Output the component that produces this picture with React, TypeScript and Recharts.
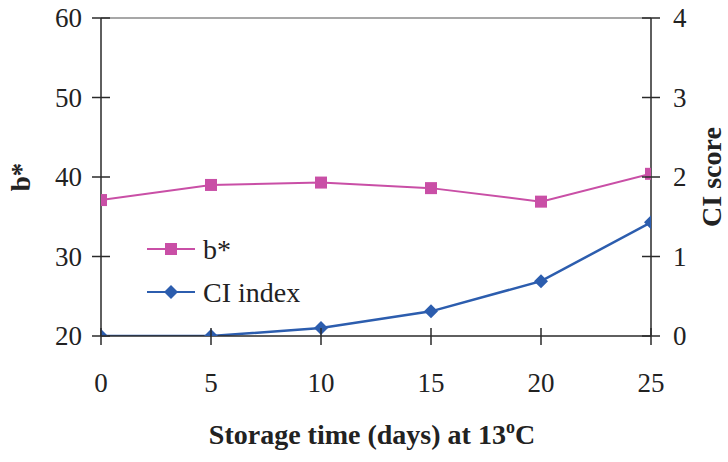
import React from 'react';
import { ComposedChart, Line, XAxis, YAxis, ReferenceLine, Legend } from 'recharts';

const days = [0, 5, 10, 15, 20, 25];
const bStar = [37.1, 39.0, 39.3, 38.6, 36.9, 40.4];
const ciScore = [0, 0, 0.1, 0.31, 0.69, 1.43];
const xTicks = [0, 5, 10, 15, 20, 25];
const leftTicks = [20, 30, 40, 50, 60];
const rightTicks = [0, 1, 2, 3, 4];
const seriesNames = ['b*', 'CI index'];

const data = days.map((d, i) => ({ day: d, b: bStar[i], ci: ciScore[i] }));

const FONT = '"Liberation Serif", "Times New Roman", serif';
const AXIS = '#2a2a2a';
const PINK = '#C94FA6';
const BLUE = '#2C5DAE';

const LeftTick = (p: any) => {
  const { x, y, payload } = p;
  return (
    <g>
      <line x1={x - 9} y1={y} x2={x + 9} y2={y} stroke={AXIS} strokeWidth={1.5} />
      <text x={x - 19} y={y} dy="0.35em" textAnchor="end" fontFamily={FONT} fontSize={27} fill="#222">
        {payload.value}
      </text>
    </g>
  );
};

const RightTick = (p: any) => {
  const { x, y, payload } = p;
  return (
    <g>
      <line x1={x - 9} y1={y} x2={x + 9} y2={y} stroke={AXIS} strokeWidth={1.5} />
      <text x={x + 22} y={y} dy="0.35em" textAnchor="start" fontFamily={FONT} fontSize={27} fill="#222">
        {payload.value}
      </text>
    </g>
  );
};

const BottomTick = (p: any) => {
  const { x, y, payload } = p;
  return (
    <g>
      <line x1={x} y1={y - 8} x2={x} y2={y + 9} stroke={AXIS} strokeWidth={1.5} />
      <text x={x} y={y + 56} textAnchor="middle" fontFamily={FONT} fontSize={27} fill="#222">
        {payload.value}
      </text>
    </g>
  );
};

const SquareDot = (p: any) => {
  const { cx, cy } = p;
  if (cx == null || cy == null) return null;
  return <rect x={cx - 6} y={cy - 6} width={12} height={12} fill={PINK} />;
};

const DiamondDot = (p: any) => {
  const { cx, cy } = p;
  if (cx == null || cy == null) return null;
  return <path d={`M${cx},${cy - 7}L${cx + 7},${cy}L${cx},${cy + 7}L${cx - 7},${cy}Z`} fill={BLUE} />;
};

const XLabel = (p: any) => {
  const vb = p.viewBox || {};
  const cx = vb.x + vb.width / 2;
  return (
    <text x={cx - 4} y={vb.y + 108} textAnchor="middle" fontFamily={FONT} fontSize={28} fontWeight="bold" fill="#222">
      Storage time (days) at 13
      <tspan dy={-11} fontSize={18}>o</tspan>
      <tspan dy={11}>C</tspan>
    </text>
  );
};

const LeftLabel = (p: any) => {
  const vb = p.viewBox || {};
  const x = vb.x + 21;
  const y = vb.y + vb.height / 2;
  return (
    <text x={x} y={y} transform={`rotate(-90 ${x} ${y})`} dy="0.35em" textAnchor="middle" fontFamily={FONT} fontSize={27} fontWeight="bold" fill="#222">
      b*
    </text>
  );
};

const RightLabel = (p: any) => {
  const vb = p.viewBox || {};
  const x = vb.x + vb.width - 17;
  const y = vb.y + vb.height / 2;
  return (
    <text x={x} y={y} transform={`rotate(-90 ${x} ${y})`} dy="0.35em" textAnchor="middle" fontFamily={FONT} fontSize={28} fontWeight="bold" fill="#222">
      CI score
    </text>
  );
};

const LegendContent = () => {
  const rows = [
    { name: seriesNames[0], color: PINK, shape: 'square', y: 21 },
    { name: seriesNames[1], color: BLUE, shape: 'diamond', y: 64 },
  ];
  return (
    <svg width={220} height={85} style={{ display: 'block' }}>
      {rows.map((r) => (
        <g key={r.name}>
          <line x1={0} y1={r.y} x2={48} y2={r.y} stroke={r.color} strokeWidth={2.2} />
          {r.shape === 'square' ? (
            <rect x={18} y={r.y - 6} width={12} height={12} fill={r.color} />
          ) : (
            <path d={`M24,${r.y - 7}L31,${r.y}L24,${r.y + 7}L17,${r.y}Z`} fill={r.color} />
          )}
          <text x={56} y={r.y} dy="0.35em" fontFamily={FONT} fontSize={28} fill="#222">
            {r.name}
          </text>
        </g>
      ))}
    </svg>
  );
};

export default function App() {
  return (
    <div style={{ position: 'absolute', left: 0, top: 0, width: 728, height: 462, background: '#fff' }}>
      <ComposedChart width={728} height={462} data={data} margin={{ top: 18, right: 0, left: 0, bottom: 0 }}>
        <XAxis
          dataKey="day"
          type="number"
          domain={[0, 25]}
          ticks={xTicks}
          height={126}
          tickSize={0}
          tickMargin={0}
          tickLine={false}
          axisLine={{ stroke: AXIS, strokeWidth: 1.5 }}
          tick={<BottomTick />}
          label={{ content: <XLabel /> }}
          allowDataOverflow
        />
        <YAxis
          yAxisId="left"
          orientation="left"
          domain={[20, 60]}
          ticks={leftTicks}
          width={101}
          tickSize={0}
          tickMargin={0}
          tickLine={false}
          axisLine={{ stroke: AXIS, strokeWidth: 1.5 }}
          tick={<LeftTick />}
          label={{ content: <LeftLabel /> }}
          allowDataOverflow
        />
        <YAxis
          yAxisId="right"
          orientation="right"
          domain={[0, 4]}
          ticks={rightTicks}
          width={77}
          tickSize={0}
          tickMargin={0}
          tickLine={false}
          axisLine={{ stroke: AXIS, strokeWidth: 1.5 }}
          tick={<RightTick />}
          label={{ content: <RightLabel /> }}
          allowDataOverflow
        />
        <ReferenceLine yAxisId="left" y={60} stroke="#8a8a8a" strokeWidth={1.5} />
        <Line
          yAxisId="left"
          dataKey="b"
          name={seriesNames[0]}
          stroke={PINK}
          strokeWidth={2}
          dot={<SquareDot />}
          activeDot={false}
          isAnimationActive={false}
        />
        <Line
          yAxisId="right"
          dataKey="ci"
          name={seriesNames[1]}
          stroke={BLUE}
          strokeWidth={2.5}
          dot={<DiamondDot />}
          activeDot={false}
          isAnimationActive={false}
        />
        <Legend
          layout="vertical"
          align="center"
          verticalAlign="middle"
          content={<LegendContent />}
          wrapperStyle={{ left: 147, top: 228, width: 220, height: 85 }}
        />
      </ComposedChart>
    </div>
  );
}
